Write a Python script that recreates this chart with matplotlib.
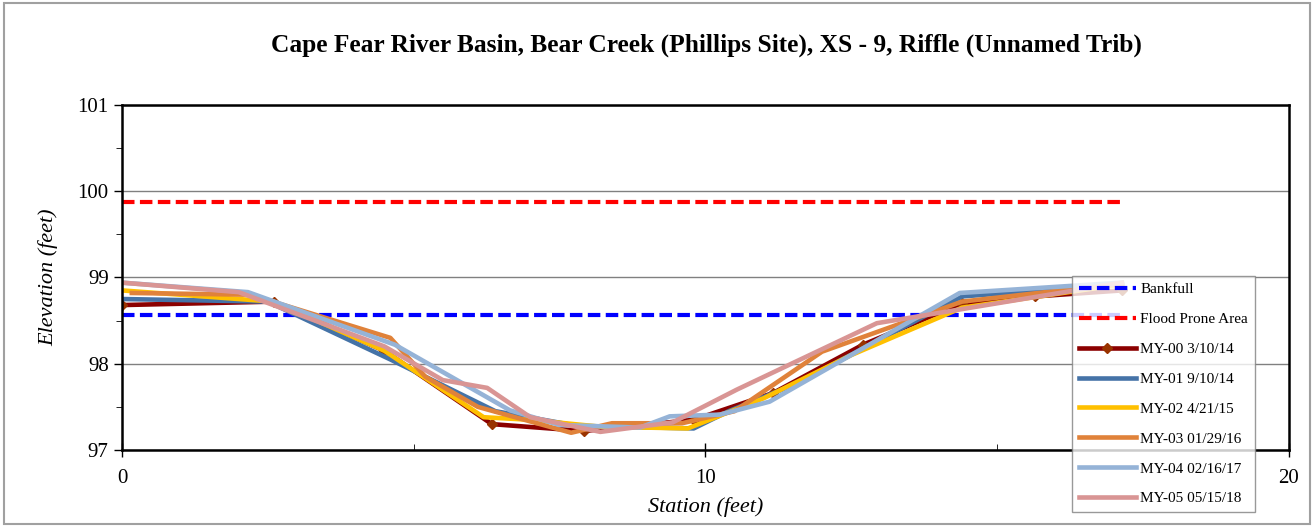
import matplotlib.pyplot as plt
from matplotlib.patches import Rectangle
from matplotlib.ticker import MultipleLocator

plt.rcParams['font.family'] = ['Liberation Serif', 'DejaVu Serif']

# station (ft) / elevation (ft) for each survey
x_my00 = [0, 2.6, 4.5, 6.34, 7.92, 9.8, 11.16, 12.7, 14.4, 15.65, 17.14]
y_my00 = [98.68, 98.72, 98.15, 97.30, 97.22, 97.35, 97.66, 98.22, 98.70, 98.78, 98.85]

x_my01 = [0, 2.5, 4.6, 6.4, 7.8, 9.8, 10.4, 11.5, 14.4, 17.14]
y_my01 = [98.75, 98.72, 98.05, 97.45, 97.28, 97.25, 97.45, 97.75, 98.78, 98.92]

x_my02 = [0, 2.6, 4.5, 6.2, 7.0, 8.2, 9.7, 11.0, 12.5, 14.4, 17.14]
y_my02 = [98.85, 98.72, 98.15, 97.38, 97.35, 97.27, 97.25, 97.60, 98.10, 98.65, 98.92]

x_my03 = [0.17, 2.2, 4.6, 5.2, 6.1, 7.7, 8.4, 9.6, 10.5, 12.0, 14.4, 17.14]
y_my03 = [98.82, 98.80, 98.30, 97.85, 97.50, 97.20, 97.31, 97.31, 97.45, 98.14, 98.72, 98.93]

x_my04 = [0, 2.16, 4.68, 6.65, 7.5, 8.88, 9.39, 10.25, 11.1, 14.36, 17.14]
y_my04 = [98.94, 98.83, 98.22, 97.46, 97.29, 97.26, 97.39, 97.41, 97.56, 98.82, 98.94]

x_my05 = [0, 2.0, 4.5, 5.5, 6.26, 7.0, 8.2, 9.44, 10.54, 12.94, 17.14]
y_my05 = [98.94, 98.83, 98.20, 97.81, 97.72, 97.38, 97.21, 97.32, 97.70, 98.47, 98.94]

bankfull = 98.57
flood_prone = 99.87
x_ref = [0, 17.14]

fig = plt.figure(figsize=(13.14, 5.26), dpi=100)
ax = fig.add_axes([0.0928, 0.1445, 0.888, 0.656])

dash = (0, (3, 1.3))
ax.plot(x_ref, [bankfull] * 2, color='#0000FF', lw=3, ls=dash, label='Bankfull')
ax.plot(x_ref, [flood_prone] * 2, color='#FF0000', lw=3, ls=dash, label='Flood Prone Area')
ax.plot(x_my00, y_my00, color='#8B0000', lw=3.3, marker='D', ms=5, mfc='#993300', mec='#993300', label='MY-00 3/10/14')
ax.plot(x_my01, y_my01, color='#4573A7', lw=3.3, label='MY-01 9/10/14')
ax.plot(x_my02, y_my02, color='#FFC000', lw=3.3, label='MY-02 4/21/15')
ax.plot(x_my03, y_my03, color='#E0823A', lw=3.3, label='MY-03 01/29/16')
ax.plot(x_my04, y_my04, color='#95B3D7', lw=3.3, label='MY-04 02/16/17')
ax.plot(x_my05, y_my05, color='#D99594', lw=3.3, label='MY-05 05/15/18')

ax.set_xlim(0, 20)
ax.set_ylim(97, 101)
ax.xaxis.set_major_locator(MultipleLocator(10))
ax.xaxis.set_minor_locator(MultipleLocator(5))
ax.yaxis.set_major_locator(MultipleLocator(1))
ax.yaxis.set_minor_locator(MultipleLocator(0.5))
ax.tick_params(axis='both', labelsize=15, width=1, length=6, direction='out')
ax.tick_params(axis='x', which='major', direction='inout', length=10, pad=9)
ax.tick_params(axis='x', which='minor', direction='in', length=4)
ax.tick_params(axis='y', which='minor', direction='out', length=4)
ax.grid(axis='y', which='major', color='#808080', lw=1)
ax.set_axisbelow(True)
for s in ax.spines.values():
    s.set_linewidth(1.8)

ax.set_xlabel('Station (feet)', fontsize=16, style='italic', labelpad=6)
ax.set_ylabel('Elevation (feet)', fontsize=16, style='italic', labelpad=14)
fig.text(0.538, 0.913, 'Cape Fear River Basin, Bear Creek (Phillips Site), XS - 9, Riffle (Unnamed Trib)',
         ha='center', va='center', fontsize=18.3, fontweight='bold')

leg = ax.legend(loc='upper left', bbox_to_anchor=(0.816, 0.476), bbox_transform=fig.transFigure,
                fontsize=11, frameon=True, fancybox=False, edgecolor='#808080', borderaxespad=0,
                handlelength=3.7, handletextpad=0.3, labelspacing=1.06, borderpad=0.45)
leg.get_frame().set_linewidth(1)

fig.patches.append(Rectangle((0.003, 0.003), 0.994, 0.992, transform=fig.transFigure,
                             fill=False, edgecolor='#A0A0A0', lw=1.5))

fig.savefig('out.png', dpi=100)
